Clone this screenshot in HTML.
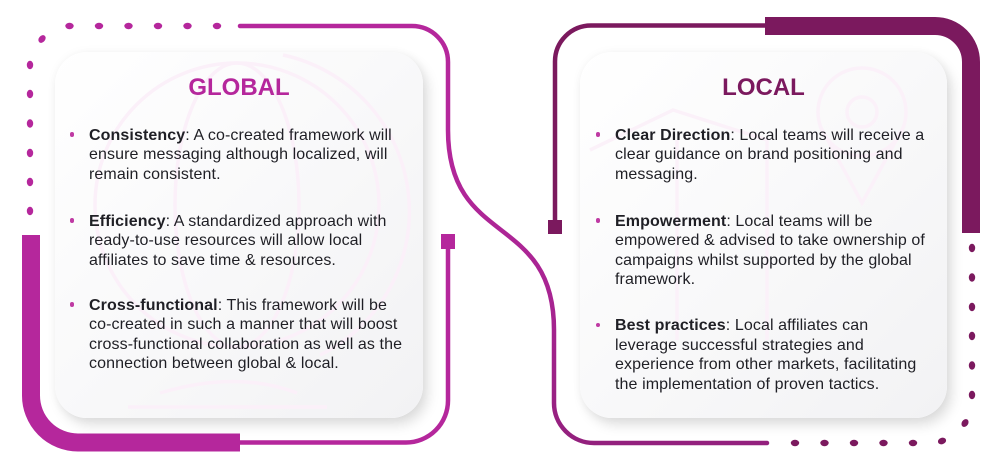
<!DOCTYPE html>
<html>
<head>
<meta charset="utf-8">
<style>
  html,body{margin:0;padding:0;background:#fff;}
  body{width:1000px;height:462px;position:relative;overflow:hidden;font-family:"Liberation Sans",Arial,sans-serif;}
  svg.frame{position:absolute;left:0;top:0;}
  .card{position:absolute;top:52px;height:366px;border-radius:32px;
    background:linear-gradient(135deg,#ffffff 0%,#f8f8f9 55%,#f2f2f4 100%);
    box-shadow:5px 7px 12px rgba(0,0,0,0.13),0 0 10px rgba(0,0,0,0.04);overflow:hidden;}
  .card svg{position:absolute;left:0;top:0;}
  .title{position:absolute;top:76px;font-size:24px;line-height:24px;font-weight:bold;text-align:center;}
  .b{position:absolute;font-size:16px;line-height:19.5px;letter-spacing:0.1px;color:#1f1f25;white-space:nowrap;}
  .b::before{content:"";position:absolute;left:-19.5px;top:6.5px;width:4.5px;height:4.5px;border-radius:50%;background:#bf3aa3;}
  .b b{font-weight:bold;}
</style>
</head>
<body>
<svg class="frame" width="1000" height="462" viewBox="0 0 1000 462">
  <defs>
    <linearGradient id="sg" gradientUnits="userSpaceOnUse" x1="0" y1="120" x2="0" y2="443">
      <stop offset="0" stop-color="#b5279c"/>
      <stop offset="0.55" stop-color="#a82492"/>
      <stop offset="1" stop-color="#93207d"/>
    </linearGradient>
  </defs>
  <!-- LEFT FRAME -->
  <path d="M31 235 V395 A47 47 0 0 0 78 442.5 H240" fill="none" stroke="#b5279c" stroke-width="18"/>
  <path d="M240 442.5 H406 A42 42 0 0 0 448 400.5 V249" fill="none" stroke="#b5279c" stroke-width="4.5"/>
  <rect x="441" y="234" width="14" height="15" fill="#b5279c"/>
  <path d="M240 26 H412 A36 36 0 0 1 448 62 V130 C448 248, 554 212, 554 330 V403 A40 40 0 0 0 594 443 H767" fill="none" stroke="url(#sg)" stroke-width="4.5" stroke-linecap="round"/>
  <g fill="#b5279c">
    <ellipse cx="69.5" cy="26" rx="4.2" ry="3.2"/>
    <ellipse cx="99" cy="26" rx="4.2" ry="3.2"/>
    <ellipse cx="128.5" cy="26" rx="4.2" ry="3.2"/>
    <ellipse cx="158" cy="26" rx="4.2" ry="3.2"/>
    <ellipse cx="187.5" cy="26" rx="4.2" ry="3.2"/>
    <ellipse cx="217" cy="26" rx="4.2" ry="3.2"/>
    <ellipse cx="42" cy="39" rx="4.2" ry="3.2" transform="rotate(-50 42 39)"/>
    <ellipse cx="30" cy="65" rx="3.2" ry="4.2"/>
    <ellipse cx="30" cy="94" rx="3.2" ry="4.2"/>
    <ellipse cx="30" cy="123.5" rx="3.2" ry="4.2"/>
    <ellipse cx="30" cy="153" rx="3.2" ry="4.2"/>
    <ellipse cx="30" cy="182" rx="3.2" ry="4.2"/>
    <ellipse cx="30" cy="211" rx="3.2" ry="4.2"/>
  </g>
  <!-- RIGHT FRAME -->
  <path d="M765 25.5 H591 A36 36 0 0 0 555 61.5 V221" fill="none" stroke="#7b195e" stroke-width="4.5"/>
  <rect x="548" y="220" width="14" height="14" fill="#7b195e"/>
  <path d="M765 26 H935 A36 36 0 0 1 971 62 V233" fill="none" stroke="#7b195e" stroke-width="18"/>
  <g fill="#7b195e">
    <ellipse cx="972" cy="248" rx="3.2" ry="4.2"/>
    <ellipse cx="972" cy="277.5" rx="3.2" ry="4.2"/>
    <ellipse cx="972" cy="307" rx="3.2" ry="4.2"/>
    <ellipse cx="972" cy="336" rx="3.2" ry="4.2"/>
    <ellipse cx="972" cy="365.5" rx="3.2" ry="4.2"/>
    <ellipse cx="972" cy="395" rx="3.2" ry="4.2"/>
    <ellipse cx="965" cy="423" rx="3.2" ry="4.2" transform="rotate(35 965 423)"/>
    <ellipse cx="942" cy="441" rx="4.2" ry="3.2" transform="rotate(-20 942 441)"/>
    <ellipse cx="913" cy="443" rx="4.2" ry="3.2"/>
    <ellipse cx="883.5" cy="443" rx="4.2" ry="3.2"/>
    <ellipse cx="854" cy="443" rx="4.2" ry="3.2"/>
    <ellipse cx="824.5" cy="443" rx="4.2" ry="3.2"/>
    <ellipse cx="795" cy="443" rx="4.2" ry="3.2"/>
  </g>
</svg>

<!-- LEFT CARD -->
<div class="card" style="left:55px;width:368px;">
  <svg width="368" height="366" viewBox="55 52 368 366">
    <g fill="none" stroke="#fbf0f9" stroke-width="3.5">
      <circle cx="237" cy="205" r="142"/>
      <ellipse cx="237" cy="205" rx="62" ry="142"/>
      <path d="M283 55 A160 160 0 0 1 320 355"/>
      <path d="M160 393 Q237 370 297 393"/>
      <path d="M128 407 H327"/>
    </g>
  </svg>
</div>
<div class="title" style="left:55px;width:368px;color:#b5279c;">GLOBAL</div>
<div class="b" style="left:89px;top:125.7px;"><b>Consistency</b>: A co-created framework will<br>ensure messaging although localized, will<br>remain consistent.</div>
<div class="b" style="left:89px;top:211.7px;"><b>Efficiency</b>: A standardized approach with<br>ready-to-use resources will allow local<br>affiliates to save time &amp; resources.</div>
<div class="b" style="left:89px;top:295.7px;"><b>Cross-functional</b>: This framework will be<br>co-created in such a manner that will boost<br>cross-functional collaboration as well as the<br>connection between global &amp; local.</div>

<!-- RIGHT CARD -->
<div class="card" style="left:580px;width:367px;">
  <svg width="367" height="366" viewBox="580 52 367 366">
    <g fill="none" stroke="#fbf1f9" stroke-width="3.5">
      <circle cx="862" cy="112" r="44"/>
      <circle cx="862" cy="112" r="15"/>
      <path d="M820 126 L862 203 L904 126"/>
      <path d="M590 150 L673 110 L767 140"/>
      <path d="M677 140 V340"/>
      <path d="M767 140 V340"/>
    </g>
  </svg>
</div>
<div class="title" style="left:580px;width:367px;color:#7b195e;">LOCAL</div>
<div class="b" style="left:615px;top:125.7px;"><b>Clear Direction</b>: Local teams will receive a<br>clear guidance on brand positioning and<br>messaging.</div>
<div class="b" style="left:615px;top:211.7px;"><b>Empowerment</b>: Local teams will be<br>empowered &amp; advised to take ownership of<br>campaigns whilst supported by the global<br>framework.</div>
<div class="b" style="left:615px;top:316.2px;"><b>Best practices</b>: Local affiliates can<br>leverage successful strategies and<br>experience from other markets, facilitating<br>the implementation of proven tactics.</div>
</body>
</html>
